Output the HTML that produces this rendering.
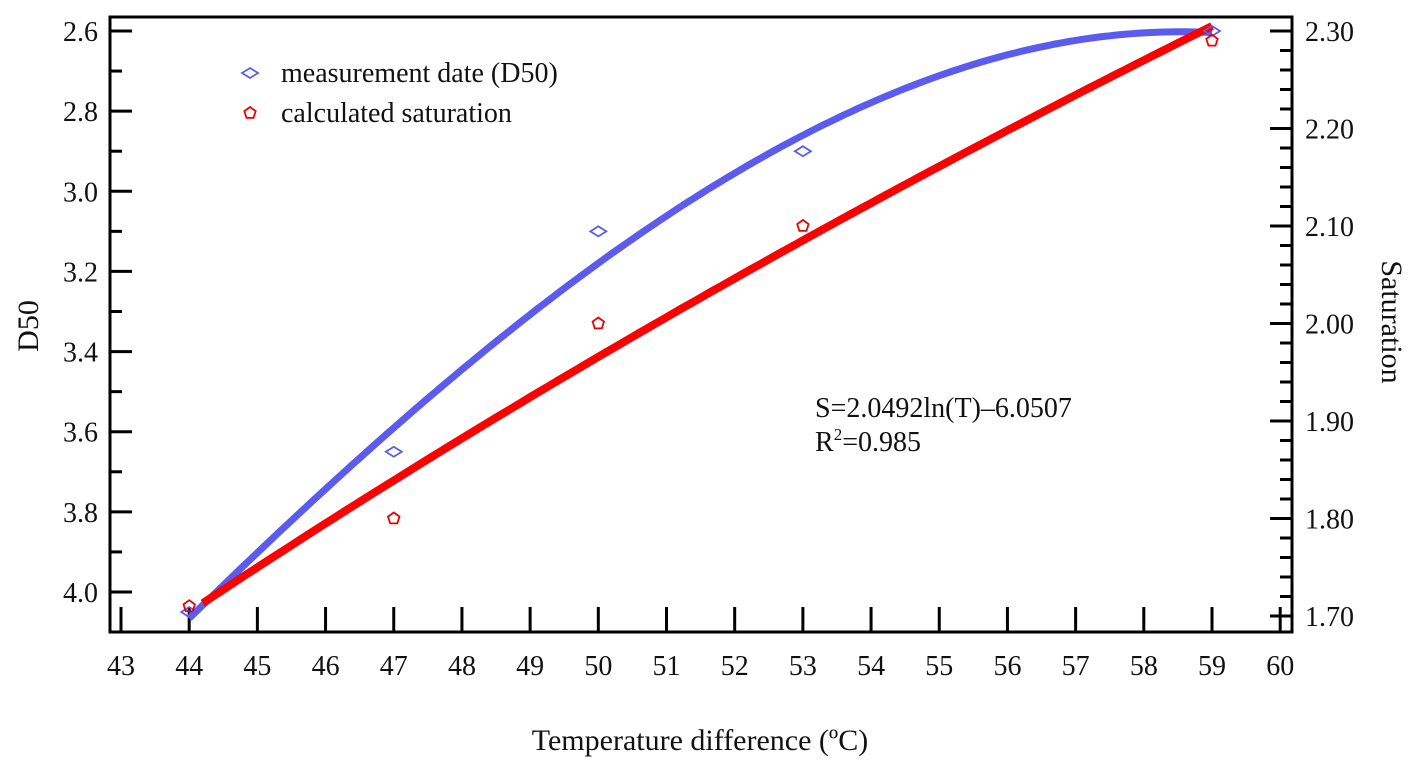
<!DOCTYPE html>
<html><head><meta charset="utf-8"><style>
body{margin:0;background:#fff}
svg text{font-family:"Liberation Serif",serif;fill:#111}
</style></head><body>
<svg id="c" width="1415" height="767" xmlns="http://www.w3.org/2000/svg"></svg>
<script>
const categories=[44,47,50,53,59];
const d50Values=[4.05,3.65,3.10,2.90,2.60];
const satValues=[1.71,1.80,2.00,2.10,2.29];
const xTicks=[43,44,45,46,47,48,49,50,51,52,53,54,55,56,57,58,59,60];
const leftTicks=[2.6,2.8,3.0,3.2,3.4,3.6,3.8,4.0];
const rightTicks=[2.30,2.20,2.10,2.00,1.90,1.80,1.70];
const satA=2.0492, satB=-6.0507;

const svg=document.getElementById('c');
const NS='http://www.w3.org/2000/svg';
function el(t,a,p){const e=document.createElementNS(NS,t);for(const k in a)e.setAttribute(k,a[k]);(p||svg).appendChild(e);return e;}
const L=110,R=1292,T=17,B=632;
const xs=v=>121+(v-43)*(1212-121)/16;
const yl=v=>31+(v-2.6)*(592-31)/1.4;
const yr=v=>31+(2.30-v)*(616-31)/0.6;
const FS=28;

const frame=el('rect',{x:L,y:T,width:R-L,height:B-T,fill:'none',stroke:'#000','stroke-width':3});



const g=el('g',{});


xTicks.forEach(v=>{
  el('line',{x1:xs(v),x2:xs(v),y1:B,y2:B-25,stroke:'#000','stroke-width':3},g);
  const t=el('text',{x:xs(v),y:675,'font-size':FS,'text-anchor':'middle'},g);t.textContent=v;
  
  
});
const gl=el('g',{});


leftTicks.forEach(v=>{
  el('line',{x1:L,x2:L+22,y1:yl(v),y2:yl(v),stroke:'#000','stroke-width':3},gl);
  const t=el('text',{x:98,y:yl(v)+10,'font-size':FS,'text-anchor':'end'},gl);t.textContent=v.toFixed(1);
  
  
  if(v<4.0) el('line',{x1:L,x2:L+12,y1:yl(v+0.1),y2:yl(v+0.1),stroke:'#000','stroke-width':3},gl);
});
const gr=el('g',{});


rightTicks.forEach(v=>{
  el('line',{x1:R,x2:R-22,y1:yr(v),y2:yr(v),stroke:'#000','stroke-width':3},gr);
  const t=el('text',{x:1305,y:yr(v)+10,'font-size':FS},gr);t.textContent=v.toFixed(2);
  
  
  if(v>1.71) for(let k=1;k<5;k++) el('line',{x1:R,x2:R-12,y1:yr(v-0.02*k),y2:yr(v-0.02*k),stroke:'#000','stroke-width':3},gr);
});

// cubic least-squares fit for D50
function polyFit(x,y,deg){const n=deg+1;const M=[];for(let i=0;i<n;i++){M.push(new Array(n+1).fill(0));}
 for(let p=0;p<x.length;p++){const u=(x[p]-50)/10;for(let i=0;i<n;i++){for(let j=0;j<n;j++)M[i][j]+=Math.pow(u,i+j);M[i][n]+=y[p]*Math.pow(u,i);}}
 for(let i=0;i<n;i++){for(let j=i+1;j<n;j++){const f=M[j][i]/M[i][i];for(let k=i;k<=n;k++)M[j][k]-=f*M[i][k];}}
 const c=new Array(n).fill(0);for(let i=n-1;i>=0;i--){let s=M[i][n];for(let k=i+1;k<n;k++)s-=M[i][k]*c[k];c[i]=s/M[i][i];}
 return v=>{const u=(v-50)/10;let s=0;for(let i=0;i<n;i++)s+=c[i]*Math.pow(u,i);return s;};}
const fd=polyFit(categories,d50Values,3);
let pb='',pr='';
for(let v=44;v<=59.001;v+=0.1){pb+=(pb?'L':'M')+xs(v).toFixed(1)+','+yl(fd(v)).toFixed(1);}
for(let v=44.2;v<=59.001;v+=0.1){pr+=(pr?'L':'M')+xs(v).toFixed(1)+','+yr(satA*Math.log(v)+satB).toFixed(1);}
const lb=el('path',{d:pb,fill:'none',stroke:'#5b5bf0','stroke-width':7});


const lr=el('path',{d:pr,fill:'none',stroke:'#ff0000','stroke-width':8});



function diamond(x,y,p){return el('path',{d:`M${x-8},${y}L${x},${y-5}L${x+8},${y}L${x},${y+5}Z`,fill:'none',stroke:'#5b5bf0','stroke-width':1.8},p);}
function pent(x,y,p){let d='';for(let k=0;k<5;k++){const a=-Math.PI/2+k*2*Math.PI/5;d+=(k?'L':'M')+(x+6*Math.cos(a)).toFixed(1)+','+(y+6*Math.sin(a)).toFixed(1);}return el('path',{d:d+'Z',fill:'none',stroke:'#e00','stroke-width':1.8},p);}
categories.forEach((c,i)=>{
  const d=diamond(xs(c),yl(d50Values[i]));
  
  
  const p=pent(xs(c),yr(satValues[i]));
  
  
});

const lg=el('g',{});


diamond(250,73,lg);pent(250,113,lg);
let t=el('text',{x:281,y:82,'font-size':FS},lg);t.textContent='measurement date (D50)';
t=el('text',{x:281,y:122,'font-size':FS},lg);t.textContent='calculated saturation';

const eq=el('g',{});


t=el('text',{x:815,y:417,'font-size':FS},eq);t.textContent='S=2.0492ln(T)\u20136.0507';
t=el('text',{x:815,y:451,'font-size':FS},eq);t.innerHTML='R<tspan font-size="17" dy="-11">2</tspan><tspan dy="11">=0.985</tspan>';

t=el('text',{x:700,y:750,'font-size':30,'text-anchor':'middle'});t.textContent='Temperature difference (\u00baC)';


t=el('text',{x:0,y:0,'font-size':30,'text-anchor':'middle',transform:'translate(38,326) rotate(-90)'});t.textContent='D50';


t=el('text',{x:0,y:0,'font-size':30,'text-anchor':'middle',transform:'translate(1382,322) rotate(90)'});t.textContent='Saturation';


</script>
</body></html>
